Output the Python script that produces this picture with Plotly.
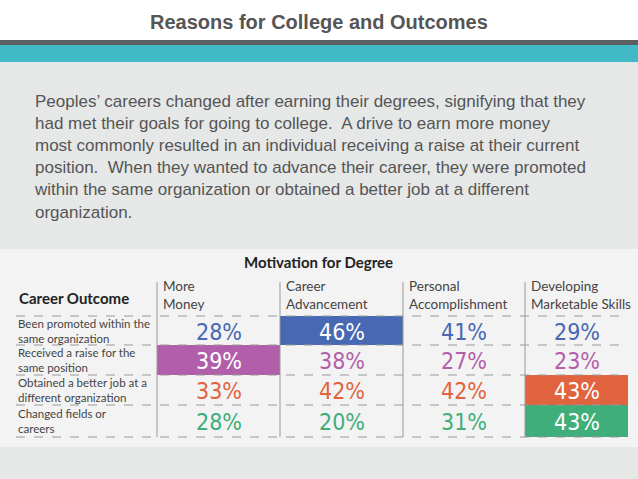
import plotly.graph_objects as go

motivations = ["More<br>Money", "Career<br>Advancement", "Personal<br>Accomplishment", "Developing<br>Marketable Skills"]
outcomes = ["Been promoted within the<br>same organization", "Received a raise for the<br>same position",
            "Obtained a better job at a<br>different organization", "Changed fields or<br>careers"]
pct = [
    [28, 46, 41, 29],
    [39, 38, 27, 23],
    [33, 42, 42, 43],
    [28, 20, 31, 43],
]
highlight = [(0, 1), (1, 0), (2, 3), (3, 3)]
row_colors = ["#4768b3", "#b25fab", "#e0643f", "#3fae7b"]
paragraph = ("Peoples’ careers changed after earning their degrees, signifying that they<br>"
             "had met their goals for going to college.  A drive to earn more money<br>"
             "most commonly resulted in an individual receiving a raise at their current<br>"
             "position.  When they wanted to advance their career, they were promoted<br>"
             "within the same organization or obtained a better job at a different<br>"
             "organization.")

W, H = 638, 479
col_x = [157, 280, 403, 525, 628]
row_y = [316, 345, 375, 405, 437]

fig = go.Figure()
shapes = [
    dict(type="rect", x0=0, x1=W, y0=40, y1=45, fillcolor="#5b5f61", line_width=0, layer="below"),
    dict(type="rect", x0=0, x1=W, y0=45, y1=62, fillcolor="#42b9c6", line_width=0, layer="below"),
    dict(type="rect", x0=0, x1=W, y0=62, y1=H, fillcolor="#e5e8e7", line_width=0, layer="below"),
    dict(type="rect", x0=0, x1=W, y0=249, y1=447, fillcolor="#f3f3f3", line_width=0, layer="below"),
]
for r, c in highlight:
    shapes.append(dict(type="rect", x0=col_x[c], x1=col_x[c + 1], y0=row_y[r], y1=row_y[r + 1],
                       fillcolor=row_colors[r], line_width=0, layer="below"))
for y in row_y:
    shapes.append(dict(type="line", x0=16, x1=628, y0=y, y1=y, line=dict(color="#999", width=1, dash="dash")))
for x in col_x[:4]:
    shapes.append(dict(type="line", x0=x, x1=x, y0=282, y1=row_y[-1], line=dict(color="#999", width=1)))

ann = [
    dict(x=W / 2, y=22, text="<b>Reasons for College and Outcomes</b>", font=dict(size=20, color="#555", family="Liberation Sans")),
    dict(x=32, y=157, text=paragraph, xanchor="left", align="left",
         font=dict(size=17, color="#555", family="Liberation Sans")),
    dict(x=318, y=262, text="<b>Motivation for Degree</b>", font=dict(size=15, color="#222", family="Lato")),
    dict(x=17, y=298, text="<b>Career Outcome</b>", xanchor="left", font=dict(size=15, color="#222", family="Lato")),
]
for i, m in enumerate(motivations):
    ann.append(dict(x=col_x[i] + 4, y=295, text=m, xanchor="left", align="left",
                    font=dict(size=13.5, color="#444", family="Lato")))
for r, o in enumerate(outcomes):
    ym = (row_y[r] + row_y[r + 1]) / 2
    ann.append(dict(x=16, y=ym, text=o, xanchor="left", align="left",
                    font=dict(size=11.5, color="#444", family="Lato")))
    for c in range(4):
        color = "white" if (r, c) in highlight else row_colors[r]
        ann.append(dict(x=(col_x[c] + col_x[c + 1]) / 2, y=ym + 1, text=f"{pct[r][c]}%",
                        font=dict(size=23, color=color, family="DejaVu Sans Condensed, Roboto Condensed, Roboto")))
for a in ann:
    a.update(xref="x", yref="y", showarrow=False)

fig.update_layout(width=W, height=H, margin=dict(l=0, r=0, t=0, b=0), plot_bgcolor="white",
                  paper_bgcolor="white", shapes=shapes, annotations=ann,
                  xaxis=dict(range=[0, W], visible=False, fixedrange=True),
                  yaxis=dict(range=[H, 0], visible=False, fixedrange=True))
fig.write_html("out.html", config={"displayModeBar": False},
               post_script="document.body.style.margin='0';document.body.style.overflow='hidden';")
